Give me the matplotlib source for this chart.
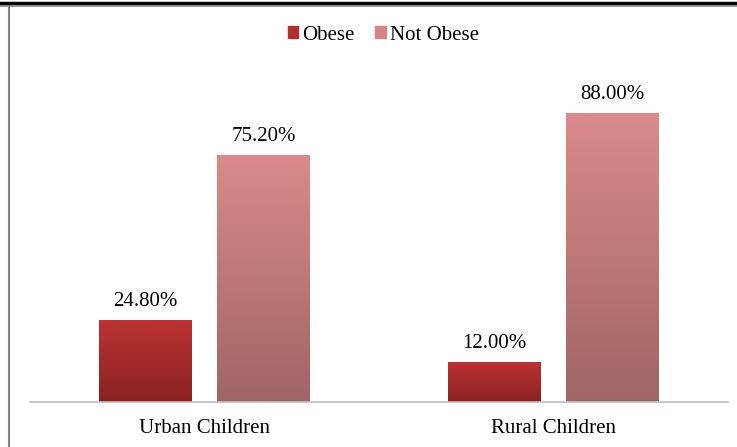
import matplotlib.pyplot as plt
import numpy as np
from matplotlib.patches import Rectangle
from matplotlib.lines import Line2D

categories = ['Urban Children', 'Rural Children']
obese = [24.8, 12.0]
not_obese = [75.2, 88.0]
series = ['Obese', 'Not Obese']

plt.rcParams['font.family'] = ['Liberation Serif', 'DejaVu Serif']

W, H = 737, 447
fig = plt.figure(figsize=(W / 100, H / 100), dpi=100)
ax = fig.add_axes([30 / W, (H - 402) / H, 698 / W, 328 / H])

x = np.arange(len(categories))
bw = 0.265
off = 0.169

def grad_bar(ax, xc, h, top_col, bot_col):
    c1 = np.array(plt.matplotlib.colors.to_rgb(top_col))
    c2 = np.array(plt.matplotlib.colors.to_rgb(bot_col))
    t = np.linspace(0, 1, 64)[:, None]
    img = (c1 * (1 - t) + c2 * t)[:, None, :]
    ax.imshow(img, extent=[xc - bw / 2, xc + bw / 2, 0, h], aspect='auto',
              origin='upper', zorder=2, interpolation='bilinear')

for i in range(len(categories)):
    grad_bar(ax, x[i] - off, obese[i], '#bb3333', '#8a2222')
    grad_bar(ax, x[i] + off, not_obese[i], '#da8a8a', '#a06565')
    ax.text(x[i] - off, obese[i] + 3.0, f'{obese[i]:.2f}%', ha='center',
            va='bottom', fontsize=15)
    ax.text(x[i] + off, not_obese[i] + 3.0, f'{not_obese[i]:.2f}%', ha='center',
            va='bottom', fontsize=15)

ax.set_xlim(-0.5, 1.5)
ax.set_ylim(0, 100)
ax.set_xticks(x)
ax.set_xticklabels(categories, fontsize=15)
ax.tick_params(axis='x', length=0, pad=12)
ax.set_yticks([])
for s in ['top', 'right', 'left']:
    ax.spines[s].set_visible(False)
ax.spines['bottom'].set_color('#bfbfbf')
ax.spines['bottom'].set_linewidth(1.2)

handles = [Rectangle((0, 0), 1, 1, color='#b03030'),
           Rectangle((0, 0), 1, 1, color='#d48585')]
fig.legend(handles, series, loc='center', bbox_to_anchor=(0.52, 1 - 35 / H),
           ncol=2, frameon=False, fontsize=15, handlelength=0.5,
           handleheight=0.5, handletextpad=0.2, columnspacing=1.0)

# page border lines
fig.add_artist(Line2D([0, 1], [1 - 2.5 / H, 1 - 2.5 / H], color='black', lw=2.5))
fig.add_artist(Line2D([0, 1], [1 - 5.5 / H, 1 - 5.5 / H], color='#808080', lw=1.2))
fig.add_artist(Line2D([8.5 / W, 8.5 / W], [0, 1 - 6 / H], color='#808080', lw=1.5))

fig.savefig('out.png', dpi=100)
